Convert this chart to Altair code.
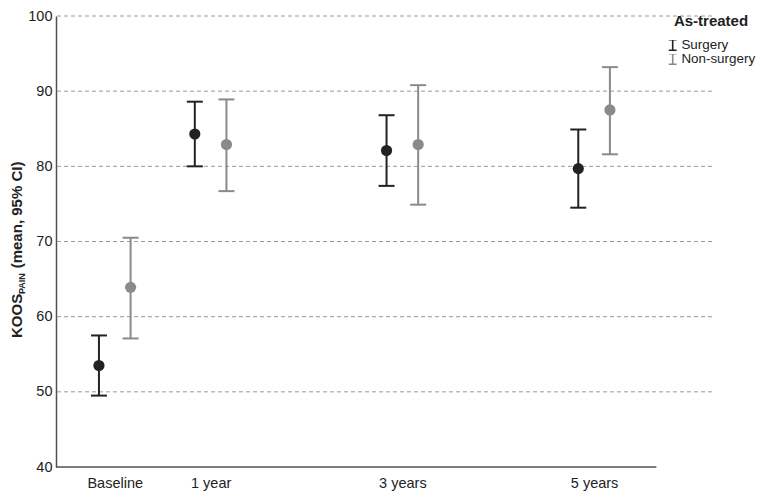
import altair as alt
import pandas as pd

# ---- data ----
timepoints = [0, 1, 3, 5]
time_labels = ["Baseline", "1 year", "3 years", "5 years"]
groups = ["Surgery", "Non-surgery"]

surgery_mean = [53.5, 84.3, 82.1, 79.7]
surgery_lower = [49.5, 80.0, 77.4, 74.5]
surgery_upper = [57.5, 88.6, 86.8, 84.9]

nonsurgery_mean = [63.9, 82.9, 82.9, 87.5]
nonsurgery_lower = [57.1, 76.7, 74.9, 81.6]
nonsurgery_upper = [70.5, 88.9, 90.8, 93.2]

y_ticks = [40, 50, 60, 70, 80, 90, 100]
grid_values = [50, 60, 70, 80, 90, 100]

# ---- layout / style ----
DODGE = 0.165
X_DOMAIN = [-0.613, 6.23]
X_AXIS_END = 5.65
FONT = "Liberation Sans"
TEXT_COLOR = "#222222"
COLORS = ["#222222", "#8a8a8a"]
W, H = 656, 451

rows = []
for g, means, lows, highs, off in [
    (groups[0], surgery_mean, surgery_lower, surgery_upper, -DODGE),
    (groups[1], nonsurgery_mean, nonsurgery_lower, nonsurgery_upper, DODGE),
]:
    for t, m, lo, hi in zip(timepoints, means, lows, highs):
        rows.append(dict(group=g, time=t, pos=t + off, mean=m, lower=lo, upper=hi))
df = pd.DataFrame(rows)

label_expr = "".join(
    f"datum.value == {t} ? '{l}' : " for t, l in zip(timepoints, time_labels)
) + "''"

xscale = alt.Scale(domain=X_DOMAIN, nice=False, zero=False)
yscale = alt.Scale(domain=[40, 100], nice=False, zero=False)
cscale = alt.Scale(domain=groups, range=COLORS)

x_axis = alt.Axis(
    values=timepoints, labelExpr=label_expr, title=None, ticks=False,
    domain=False, grid=False, labelFontSize=14.5, labelPadding=9,
    labelColor=TEXT_COLOR, labelFont=FONT,
)
y_axis = alt.Axis(
    values=y_ticks, title=None, ticks=False, grid=False,
    domainColor="#505050", domainWidth=1.5, labelPadding=4,
    labelFontSize=14.5, labelColor=TEXT_COLOR, labelFont=FONT,
)

ibeam = "M-0.75,-1H0.75M0,-1V1M-0.75,1H0.75"
legend = alt.Legend(
    title="As-treated", orient="none", legendX=610, legendY=-2,
    titleFont=FONT, titleFontSize=15, titleFontWeight="bold",
    titleColor=TEXT_COLOR, titlePadding=11, titleAnchor="middle",
    labelFont=FONT, labelFontSize=13.4, labelColor=TEXT_COLOR, labelOffset=2,
    symbolType=ibeam, symbolSize=110, symbolStrokeWidth=1.6,
    rowPadding=0, clipHeight=10,
)

base = alt.Chart(df)

grid = alt.Chart(pd.DataFrame({"g": grid_values})).mark_rule(
    color="#9a9a9a", strokeWidth=1, strokeDash=[4, 3]
).encode(y=alt.Y("g:Q", scale=yscale, axis=y_axis))

x_line = alt.Chart(pd.DataFrame({"a": [X_DOMAIN[0]], "b": [X_AXIS_END], "y": [40]})).mark_rule(
    color="#505050", strokeWidth=1.5
).encode(
    x=alt.X("a:Q", scale=xscale, axis=x_axis), x2="b:Q",
    y=alt.Y("y:Q", scale=yscale),
)

bars = base.mark_rule(strokeWidth=2).encode(
    x=alt.X("pos:Q", scale=xscale),
    y=alt.Y("lower:Q", scale=yscale), y2="upper:Q",
    color=alt.Color("group:N", scale=cscale, legend=legend),
)

cap_hi = base.mark_rule(strokeWidth=2, xOffset=-8, x2Offset=8).encode(
    x=alt.X("pos:Q", scale=xscale), x2="pos:Q",
    y=alt.Y("upper:Q", scale=yscale),
    color=alt.Color("group:N", scale=cscale, legend=None),
)
cap_lo = base.mark_rule(strokeWidth=2, xOffset=-8, x2Offset=8).encode(
    x=alt.X("pos:Q", scale=xscale), x2="pos:Q",
    y=alt.Y("lower:Q", scale=yscale),
    color=alt.Color("group:N", scale=cscale, legend=None),
)

points = base.mark_circle(size=125, opacity=1).encode(
    x=alt.X("pos:Q", scale=xscale),
    y=alt.Y("mean:Q", scale=yscale),
    color=alt.Color("group:N", scale=cscale, legend=None),
)

# y-axis title with subscript, as three rotated text pieces
title_parts = [
    ("KOOS", -34, 322, 15),
    ("PAIN", -31, 278, 9),
    ("(mean, 95% CI)", -34, 252.3, 15),
]
title_layers = [
    alt.Chart(pd.DataFrame({"t": [txt]})).mark_text(
        angle=270, align="left", baseline="alphabetic", font=FONT,
        fontSize=fs, fontWeight="bold", color=TEXT_COLOR,
    ).encode(text="t:N", x=alt.value(xv), y=alt.value(yv))
    for txt, xv, yv, fs in title_parts
]

chart = alt.layer(grid, x_line, bars, cap_hi, cap_lo, points, *title_layers).properties(
    width=W, height=H,
    background="white",
    autosize=alt.AutoSizeParams(type="none"),
    padding={"left": 48, "top": 8, "right": 48, "bottom": 24},
).configure_view(stroke=None)

chart.save("out.html", embed_options={"renderer": "svg", "actions": False})
